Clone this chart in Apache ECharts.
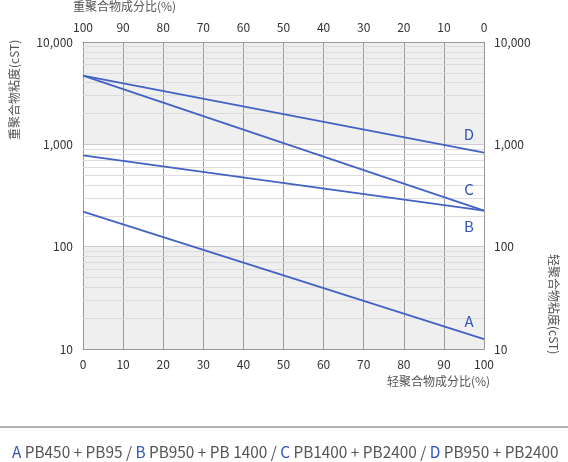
<!DOCTYPE html>
<html lang="zh">
<head>
    <meta charset="UTF-8">
    <title>粘度</title>
    <script src="https://cdn.jsdelivr.net/npm/echarts@6/dist/echarts.min.js"></script>
</head>
<style>
html,body{margin:0;padding:0;background-color:#fff}
#chartBox{width:568px;height:462px}
</style>
<body>
    <div id="chartBox"></div>
</body>
<script>
// 数据
const lightShare = [0, 100];           // 轻聚合物成分比(%)
const viscA = [220, 12.5];
const viscB = [780, 225];
const viscC = [4700, 225];
const viscD = [4700, 830];
const curveNames = ['A', 'B', 'C', 'D'];
const minorGrid = [20,30,40,50,60,70,80,90,200,300,400,500,600,700,800,900,2000,3000,4000,5000,6000,7000,8000,9000];
const legendParts = [
    ['A', 'PB450 + PB95 / '],
    ['B', 'PB950 + PB 1400 / '],
    ['C', 'PB1400 + PB2400 / '],
    ['D', 'PB950 + PB2400']
];

const FONT = '"Noto Sans CJK SC", "Noto Sans", sans-serif';
const LINE_COLOR = '#4262c4';
const TXT_BLUE = '#3356b8';

function fmt(v){ return String(v).replace(/\B(?=(\d{3})+(?!\d))/g, ','); }

// 曲线 + 末端字母标签
function curve(name, vals, offset){
    return {
        type: 'line',
        name: name,
        symbol: 'none',
        lineStyle: {width: 1.8, color: LINE_COLOR},
        z: 5,
        endLabel: {
            show: true, formatter: name, distance: 0, offset: offset,
            align: 'center', verticalAlign: 'middle',
            color: TXT_BLUE, fontSize: 15, fontFamily: FONT
        },
        data: lightShare.map((x, i) => [x, vals[i]])
    };
}

let legendText = legendParts.map(p => '{k|' + p[0] + '} {t|' + p[1] + '}').join('');

let option = {
    animation: false,
    textStyle: {fontFamily: FONT},
    grid: {left: 83, right: 84, top: 42, bottom: 113},
    xAxis: [
        {
            type: 'value', position: 'bottom', min: 0, max: 100, interval: 10,
            axisLine: {lineStyle: {color: '#999'}},
            axisTick: {show: false},
            axisLabel: {color: '#333', fontSize: 12, margin: 9},
            splitLine: {show: true, lineStyle: {color: '#999', width: 1}}
        },
        {
            type: 'value', position: 'top', min: 0, max: 100, interval: 10, inverse: true,
            axisLine: {show: true, lineStyle: {color: '#999'}},
            axisTick: {show: false},
            axisLabel: {color: '#333', fontSize: 12, margin: 9},
            splitLine: {show: false}
        }
    ],
    yAxis: [
        {
            type: 'log', logBase: 10, min: 10, max: 10000, position: 'left',
            axisLine: {show: true, lineStyle: {color: '#999'}},
            axisTick: {show: false},
            axisLabel: {color: '#333', fontSize: 12, margin: 10, formatter: v => fmt(v)},
            splitLine: {show: true, lineStyle: {color: '#ccc'}},
            splitArea: {show: true, areaStyle: {color: ['#efefef', '#ffffff']}}
        },
        {
            type: 'log', logBase: 10, min: 10, max: 10000, position: 'right',
            axisLine: {show: true, lineStyle: {color: '#999'}},
            axisTick: {show: false},
            axisLabel: {color: '#333', fontSize: 12, margin: 10, formatter: v => fmt(v)},
            splitLine: {show: false}
        }
    ],
    series: [
        {
            type: 'line', name: 'minor', data: [], silent: true, z: 1,
            markLine: {
                silent: true, symbol: 'none', label: {show: false},
                lineStyle: {color: '#dcdcdc', type: 'solid', width: 1},
                data: minorGrid.map(v => ({yAxis: v}))
            }
        },
        curve(curveNames[0], viscA, [-15, -18]),
        curve(curveNames[1], viscB, [-15, 16]),
        curve(curveNames[2], viscC, [-15, -21]),
        curve(curveNames[3], viscD, [-15, -18])
    ],
    graphic: [
        {type: 'text', left: 73, top: 0, style: {text: '重聚合物成分比(%)', fill: '#555', font: '12px ' + FONT}},
        {type: 'text', x: 387, y: 375, style: {text: '轻聚合物成分比(%)', fill: '#555', font: '12px ' + FONT}},
        {type: 'text', x: 8, y: 140, rotation: Math.PI / 2, style: {text: '重聚合物粘度(cST)', fill: '#555', font: '12px ' + FONT}},
        {type: 'text', x: 560, y: 254, rotation: -Math.PI / 2, style: {text: '轻聚合物粘度(cST)', fill: '#555', font: '12px ' + FONT}},
        {type: 'line', shape: {x1: 0, y1: 427, x2: 568, y2: 427}, style: {stroke: '#666', lineWidth: 1}},
        {
            type: 'text', x: 12, y: 444,
            style: {
                text: legendText,
                rich: {
                    k: {fill: TXT_BLUE, fontSize: 15.4, fontFamily: FONT},
                    t: {fill: '#555', fontSize: 15.4, fontFamily: FONT}
                }
            }
        }
    ]
};

let chartObj = echarts.init(document.getElementById('chartBox'));
chartObj.setOption(option);
</script>
</html>
